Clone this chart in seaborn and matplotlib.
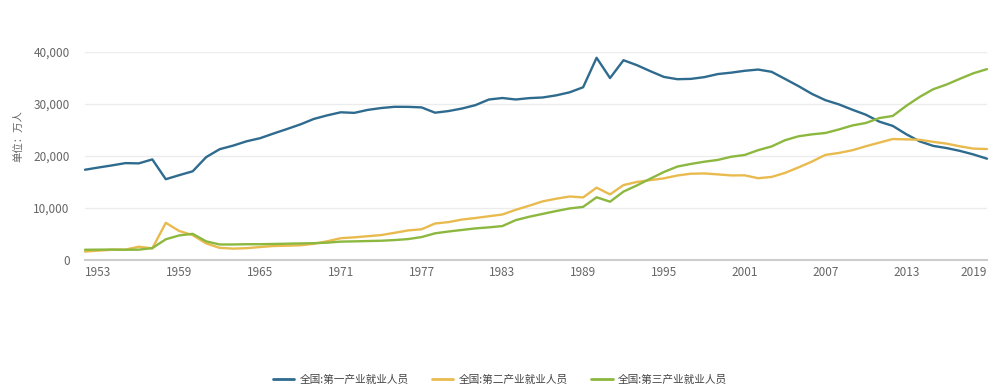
import pandas as pd
import matplotlib
matplotlib.use("Agg")
import matplotlib.pyplot as plt
import seaborn as sns

# 年份 1952-2019
years = list(range(1952, 2020))

# 第一产业就业人员 (万人)
primary = [17317, 17747, 18151, 18592, 18544, 19309, 15490, 16271, 17016, 19747,
           21276, 21966, 22801, 23396, 24297, 25165, 26063, 27117, 27811, 28397,
           28283, 28857, 29218, 29456, 29443, 29340, 28318, 28634, 29122, 29777,
           30859, 31151, 30868, 31130, 31254, 31663, 32249, 33225, 38914, 35000,
           38440, 37480, 36320, 35220, 34780, 34840, 35177, 35768, 36043, 36399,
           36640, 36204, 34830, 33442, 31941, 30731, 29923, 28890, 27931, 26594,
           25773, 24171, 22790, 21919, 21496, 20944, 20258, 19445]

# 第二产业就业人员 (万人)
secondary = [1531, 1715, 1882, 1913, 2468, 2142, 7076, 5500, 4700, 3100,
             2250, 2100, 2183, 2408, 2600, 2661, 2743, 3030, 3518, 4112,
             4276, 4492, 4712, 5152, 5611, 5831, 6945, 7214, 7707, 8003,
             8346, 8679, 9590, 10384, 11216, 11726, 12152, 11976, 13856, 12560,
             14355, 14965, 15312, 15655, 16203, 16547, 16600, 16421, 16219, 16234,
             15682, 15927, 16709, 17766, 18894, 20186, 20553, 21080, 21842, 22544,
             23241, 23170, 23099, 22693, 22350, 21824, 21390, 21305]

# 第三产业就业人员 (万人)
tertiary = [1881, 1900, 1920, 1880, 1900, 2200, 3900, 4650, 4950, 3500,
            2900, 2900, 2950, 2950, 3000, 3050, 3100, 3150, 3250, 3450,
            3500, 3560, 3620, 3750, 3940, 4330, 5050, 5400, 5700, 6000,
            6200, 6450, 7600, 8250, 8800, 9350, 9850, 10150, 12000, 11150,
            13100, 14300, 15600, 16880, 17927, 18432, 18860, 19205, 19823, 20165,
            21090, 21809, 23011, 23771, 24143, 24404, 25087, 25857, 26332, 27282,
            27690, 29636, 31364, 32839, 33757, 34872, 35938, 36721]

series_names = ["全国:第一产业就业人员", "全国:第二产业就业人员", "全国:第三产业就业人员"]
colors = ["#2e6b8e", "#e9bb4f", "#8cb83f"]

tick_years = list(range(1953, 2020, 6))
y_ticks = [0, 10000, 20000, 30000, 40000]

df = pd.DataFrame({"year": years * 3,
                   "value": primary + secondary + tertiary,
                   "series": [series_names[0]] * len(years)
                   + [series_names[1]] * len(years)
                   + [series_names[2]] * len(years)})

sns.set_theme(style="white")
plt.rcParams["font.family"] = ["Noto Sans CJK SC", "DejaVu Sans"]

fig = plt.figure(figsize=(10, 3.92), dpi=100)
ax = fig.add_axes([0.085, 0.338, 0.902, 0.529])

sns.lineplot(data=df, x="year", y="value", hue="series", palette=colors,
             linewidth=1.7, ax=ax, legend=False)

ax.set_xlim(1952, 2019)
ax.set_ylim(0, 40000)
ax.set_xticks(tick_years)
ax.set_xticklabels([str(y) for y in tick_years])
ax.set_yticks(y_ticks)
ax.set_yticklabels([f"{v:,}" for v in y_ticks])
ax.tick_params(axis="both", length=0, labelsize=8.5, colors="#666666")
ax.tick_params(axis="x", pad=5)
ax.tick_params(axis="y", pad=11)
ax.get_xticklabels()[-1].set_horizontalalignment("right")
ax.set_xlabel("")
ax.set_ylabel("")

ax.grid(axis="y", color="#ececec", linewidth=1)
ax.grid(axis="x", visible=False)
for s in ["top", "right", "left"]:
    ax.spines[s].set_visible(False)
ax.spines["bottom"].set_color("#cccccc")
ax.spines["bottom"].set_linewidth(1.5)
for line in ax.lines:
    line.set_clip_on(False)

fig.text(0.018, 1 - 136 / 392, "单位：万人", rotation=90, ha="center", va="center",
         fontsize=7.5, color="#666666")

handles = [plt.Line2D([], [], color=c, linewidth=2) for c in colors]
fig.legend(handles, series_names, loc="center", bbox_to_anchor=(0.5, 0.031),
           ncol=3, frameon=False, fontsize=7.7, handlelength=2,
           handletextpad=0.5, columnspacing=2.2, labelcolor="#444444")

fig.savefig("out.png", dpi=100)
